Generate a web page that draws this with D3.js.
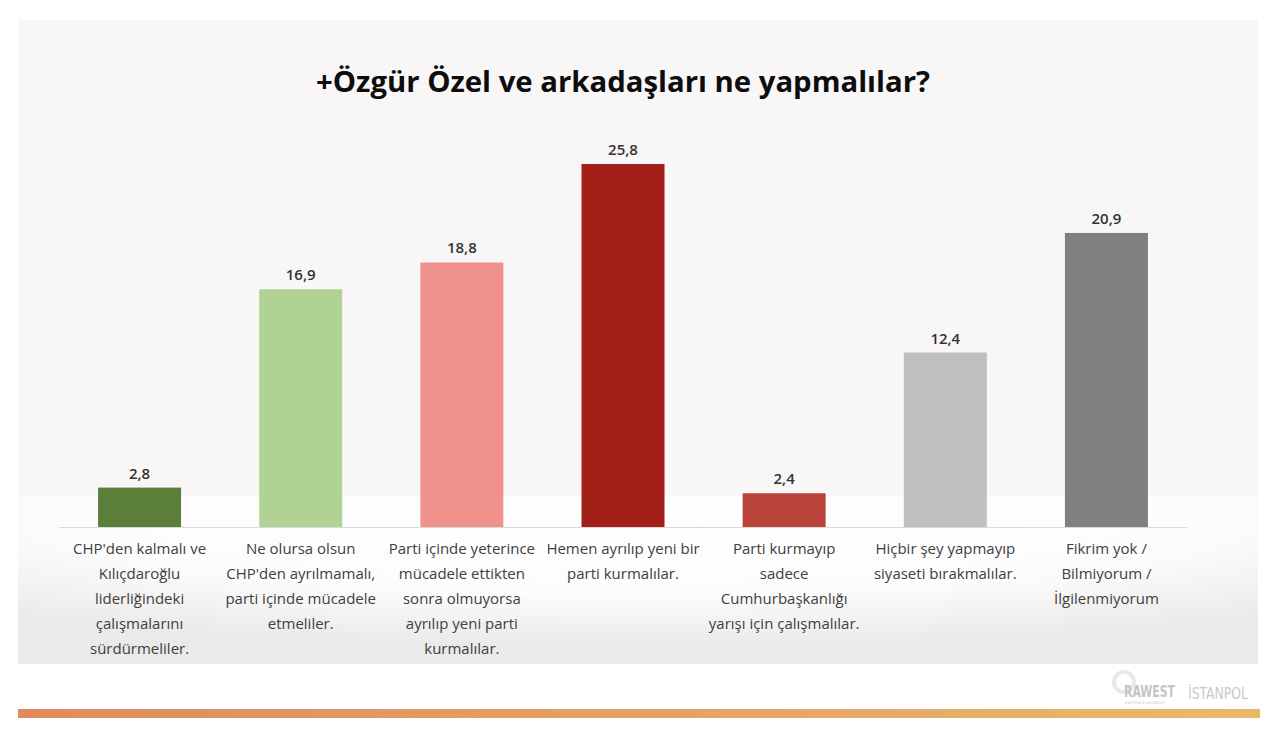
<!DOCTYPE html>
<html>
<head>
<meta charset="utf-8">
<script src="https://cdn.jsdelivr.net/npm/d3@7"></script>
<style>
  html, body { margin: 0; padding: 0; background: #ffffff; }
  #chart { width: 1280px; height: 738px; }
</style>
</head>
<body>
<div id="chart"></div>
<script>
// ---- data ----
const categories = [
  "CHP'den kalmalı ve|Kılıçdaroğlu|liderliğindeki|çalışmalarını|sürdürmeliler.",
  "Ne olursa olsun|CHP'den ayrılmamalı,|parti içinde mücadele|etmeliler.",
  "Parti içinde yeterince|mücadele ettikten|sonra olmuyorsa|ayrılıp yeni parti|kurmalılar.",
  "Hemen ayrılıp yeni bir|parti kurmalılar.",
  "Parti kurmayıp|sadece|Cumhurbaşkanlığı|yarışı için çalışmalılar.",
  "Hiçbir şey yapmayıp|siyaseti bırakmalılar.",
  "Fikrim yok /|Bilmiyorum /|İlgilenmiyorum"
];
const values = [2.8, 16.9, 18.8, 25.8, 2.4, 12.4, 20.9];
const barColors = ["#5b7f3b", "#b1d295", "#f0918b", "#a21f18", "#b9423a", "#bfbfbf", "#808080"];
const title = "+Özgür Özel ve arkadaşları ne yapmalılar?";

const W = 1280, H = 738;
const font = "'Open Sans', 'Noto Sans', sans-serif";

const svg = d3.select('#chart').append('svg')
  .attr('width', W).attr('height', H);

const defs = svg.append('defs');

// lower shadow gradient
const shade = defs.append('radialGradient').attr('id', 'shade')
  .attr('cx', '50%').attr('cy', '10%').attr('r', '80%');
shade.append('stop').attr('offset', '0%').attr('stop-color', '#ffffff');
shade.append('stop').attr('offset', '60%').attr('stop-color', '#fcfcfc');
shade.append('stop').attr('offset', '100%').attr('stop-color', '#eaeaea');

const stripe = defs.append('linearGradient').attr('id', 'stripe');
stripe.append('stop').attr('offset', '0%').attr('stop-color', '#df8a5e');
stripe.append('stop').attr('offset', '100%').attr('stop-color', '#e9b96b');

// Background panel
svg.append('rect').attr('x', 18).attr('y', 20).attr('width', 1240).attr('height', 476)
  .attr('fill', '#f8f6f6');
svg.append('rect').attr('x', 18).attr('y', 496).attr('width', 1240).attr('height', 168)
  .attr('fill', 'url(#shade)');

// Title
svg.append('text')
  .attr('x', 623).attr('y', 92)
  .attr('text-anchor', 'middle')
  .attr('font-family', font)
  .attr('font-size', '28px')
  .attr('font-weight', 700)
  .attr('fill', '#0d0d0d')
  .attr('textLength', 614)
  .attr('lengthAdjust', 'spacingAndGlyphs')
  .text(title);

// Scales
const x = d3.scaleBand().domain(d3.range(categories.length))
  .range([59, 1187]).paddingInner(0.485).paddingOuter(0.2425);
const y = d3.scaleLinear().domain([0, 25.8]).range([527, 164]);

// Axis line
svg.append('g')
  .attr('transform', `translate(0,${y(0)})`)
  .call(d3.axisBottom(x).tickSize(0).tickFormat(''))
  .call(g => g.select('.domain').attr('stroke', '#d9d9d9').attr('stroke-width', 1));

// Bars
svg.append('g').selectAll('rect')
  .data(values)
  .join('rect')
  .attr('x', (d, i) => x(i))
  .attr('y', d => y(d))
  .attr('width', x.bandwidth())
  .attr('height', d => y(0) - y(d))
  .attr('fill', (d, i) => barColors[i]);

// Value labels
svg.append('g').selectAll('text')
  .data(values)
  .join('text')
  .attr('x', (d, i) => x(i) + x.bandwidth() / 2)
  .attr('y', d => y(d) - 9)
  .attr('text-anchor', 'middle')
  .attr('font-family', font)
  .attr('font-size', '15px')
  .attr('font-weight', 600)
  .attr('fill', '#333333')
  .text(d => d.toFixed(1).replace('.', ','));

// Category labels
const catG = svg.append('g').selectAll('text')
  .data(categories)
  .join('text')
  .attr('x', (d, i) => x(i) + x.bandwidth() / 2)
  .attr('y', 554)
  .attr('text-anchor', 'middle')
  .attr('font-family', font)
  .attr('font-size', '15px')
  .attr('font-weight', 500)
  .attr('fill', '#404040');
catG.selectAll('tspan')
  .data(d => d.split('|'))
  .join('tspan')
  .attr('x', function() { return d3.select(this.parentNode).attr('x'); })
  .attr('dy', (d, i) => i === 0 ? 0 : 25)
  .text(d => d);

// Footer stripe
svg.append('rect').attr('x', 18).attr('y', 709).attr('width', 1242).attr('height', 9)
  .attr('fill', 'url(#stripe)');

// Logos
svg.append('circle').attr('cx', 1124).attr('cy', 682).attr('r', 10)
  .attr('fill', 'none').attr('stroke', '#e8e8e8').attr('stroke-width', 4);
svg.append('text').attr('x', 1124).attr('y', 697)
  .attr('font-family', "'DejaVu Sans Condensed', 'Liberation Sans Narrow', sans-serif")
  .attr('font-size', '16px').attr('font-weight', 700)
  .attr('textLength', 51).attr('lengthAdjust', 'spacingAndGlyphs')
  .attr('fill', '#c4c4c4').text('RAWEST');
svg.append('text').attr('x', 1125).attr('y', 704)
  .attr('font-family', font).attr('font-size', '3px')
  .attr('textLength', 40).attr('lengthAdjust', 'spacingAndGlyphs')
  .attr('fill', '#d0d0d0').text('ARAŞTIRMA & DANIŞMANLIK');
svg.append('text').attr('x', 1188).attr('y', 699)
  .attr('font-family', "'DejaVu Sans Condensed', sans-serif")
  .attr('font-size', '16px')
  .attr('textLength', 60).attr('lengthAdjust', 'spacingAndGlyphs')
  .attr('fill', '#c8c8c8').text('İSTANPOL');
</script>
</body>
</html>
